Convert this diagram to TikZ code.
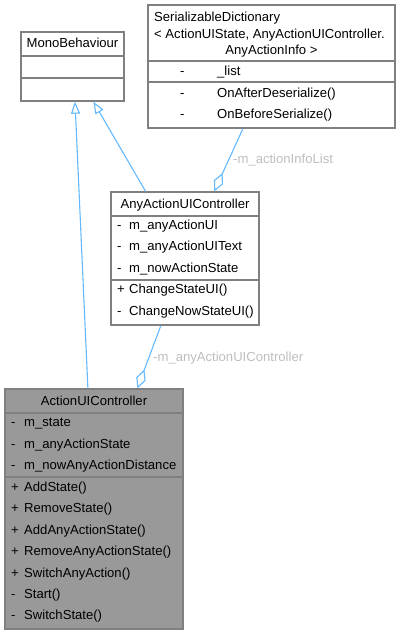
\documentclass[tikz,border=0pt]{standalone}
\usepackage{fontspec}
\setmainfont{Liberation Sans}
\usetikzlibrary{arrows.meta,calc}
\definecolor{edgeblue}{HTML}{63B8FF}
\definecolor{boxgray}{HTML}{808080}
\definecolor{fillgray}{HTML}{999999}
\definecolor{labelgray}{HTML}{BEBEBE}
\tikzset{
  classbox/.style={draw=boxgray, line width=1.4pt, fill=white, inner sep=0pt, rectangle},
  hotbox/.style={classbox, fill=fillgray},
  compsep/.style={draw=boxgray, line width=1.4pt},
  member/.style={font=\fontsize{13.1}{15}\selectfont, inner sep=0pt, anchor=west,
                 text height=9.5pt, text depth=3pt},
  ctitle/.style={font=\fontsize{13.1}{15}\selectfont, inner sep=0pt,
                 text height=9.5pt, text depth=3pt},
  inherit/.style={draw=edgeblue, line width=1.1pt, -{Triangle[open,length=12pt,width=9pt]}},
  usage/.style={draw=edgeblue, line width=1.1pt, -{Diamond[open,length=20pt,width=10pt]}},
  rolelabel/.style={font=\fontsize{13.1}{15}\selectfont, text=labelgray, inner sep=0pt,
                    anchor=west, text height=9.5pt, text depth=3pt}
}

\begin{document}
\begin{tikzpicture}[x=1pt,y=-1pt]
  \useasboundingbox (0,0) rectangle (400,635);

  % Class boxes.
  \node[classbox, minimum width=103pt, minimum height=69pt] (mono) at (72.5,66.5) {};
  \node[classbox, minimum width=247pt, minimum height=123pt] (dict) at (271.5,66.5) {};
  \node[classbox, minimum width=148pt, minimum height=133pt] (anyctl) at (185,258.5) {};
  \node[hotbox, minimum width=178pt, minimum height=240pt] (actctl) at (94,509) {};

  % Compartment separators.
  \draw[compsep] (mono.west |- 0,56) -- (mono.east |- 0,56);
  \draw[compsep] (mono.west |- 0,78) -- (mono.east |- 0,78);
  \draw[compsep] (dict.west |- 0,61) -- (dict.east |- 0,61);
  \draw[compsep] (dict.west |- 0,82) -- (dict.east |- 0,82);
  \draw[compsep] (anyctl.west |- 0,216) -- (anyctl.east |- 0,216);
  \draw[compsep] (anyctl.west |- 0,280) -- (anyctl.east |- 0,280);
  \draw[compsep] (actctl.west |- 0,413) -- (actctl.east |- 0,413);
  \draw[compsep] (actctl.west |- 0,477) -- (actctl.east |- 0,477);

  % MonoBehaviour.
  \node[ctitle] (mononame) at (72.5,44) {MonoBehaviour};

  % SerializableDictionary.
  \node[member] (dictname1) at (154,18) {SerializableDictionary};
  \node[member] (dictname2) at (154,35) {< ActionUIState, AnyActionUIController.};
  \node[ctitle] (dictname3) at (271.5,51) {AnyActionInfo >};
  \foreach \y/\v/\s in {72/a/\_list, 94/b/OnAfterDeserialize(), 115/c/OnBeforeSerialize()} {
    \node[member] (dictvis\v) at (180,\y) {-};
    \node[member] (dictmem\v) at (217,\y) {\s};
  }

  % AnyActionUIController.
  \node[ctitle] (anyname) at (185,205) {AnyActionUIController};
  \foreach \y/\v/\p/\s in {226/a/-/m\_anyActionUI, 247/b/-/m\_anyActionUIText,
      269/c/-/m\_nowActionState, 290/d/+/ChangeStateUI(), 312/e/-/ChangeNowStateUI()} {
    \node[member] (anyvis\v) at (117,\y) {\p};
    \node[member] (anymem\v) at (129,\y) {\s};
  }

  % ActionUIController.
  \node[ctitle] (actname) at (94,402) {ActionUIController};
  \foreach \y/\v/\p/\s in {423/a/-/m\_state, 445/b/-/m\_anyActionState,
      466/c/-/m\_nowAnyActionDistance, 488/d/+/AddState(), 509/e/+/RemoveState(),
      531/f/+/AddAnyActionState(), 552/g/+/RemoveAnyActionState(),
      574/h/+/SwitchAnyAction(), 595/i/-/Start(), 616/j/-/SwitchState()} {
    \node[member] (actvis\v) at (11,\y) {\p};
    \node[member] (actmem\v) at (24,\y) {\s};
  }

  % Generalisation and usage relations.
  \draw[inherit] ($(actctl.north west)!0.466!(actctl.north east)$) --
                 ($(mono.south west)!0.524!(mono.south east)$);
  \draw[inherit] ($(anyctl.north west)!0.236!(anyctl.north east)$) --
                 ($(mono.south west)!0.70!(mono.south east)$);
  \draw[usage] ($(dict.south west)!0.385!(dict.south east)$) --
               ($(anyctl.north west)!0.696!(anyctl.north east)$);
  \draw[usage] ($(anyctl.south west)!0.338!(anyctl.south east)$) --
               ($(actctl.north west)!0.742!(actctl.north east)$);

  % Role labels.
  \node[rolelabel] (infolabel) at (233,160) {-m\_actionInfoList};
  \node[rolelabel] (ctllabel) at (153,358) {-m\_anyActionUIController};
\end{tikzpicture}
\end{document}
